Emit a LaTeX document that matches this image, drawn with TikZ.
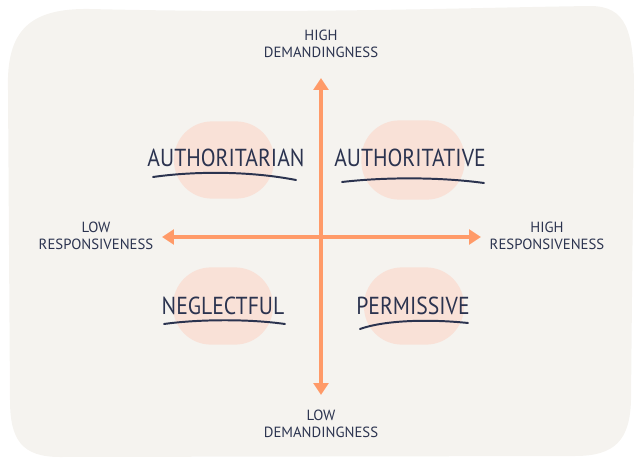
\documentclass[tikz,border=0pt]{standalone}
\usepackage{fontspec}
\setmainfont{PT Sans}
\newfontfamily\handfont[FakeStretch=0.88]{PT Sans}
\usepackage{tikz}
\usetikzlibrary{arrows.meta,positioning,calc}
\definecolor{pnavy}{HTML}{2B334F}
\definecolor{porange}{HTML}{FF9A68}
\definecolor{ppeach}{HTML}{F9E1D7}
\definecolor{pbg}{HTML}{F5F3EF}

\begin{document}
\begin{tikzpicture}[x=0.025cm, y=-0.025cm,
        axis/.style={{Triangle[length=8.5pt, width=10.5pt]}-{Triangle[length=8.5pt, width=10.5pt]}, line width=2.2pt, porange},
        blob/.style={fill=ppeach, rounded corners=0.95cm, minimum width=2.5cm, minimum height=1.93cm, inner sep=0pt},
        style/.style={text=pnavy, font=\handfont\fontsize{17.5}{20}\selectfont, inner sep=0pt},
        lbl/.style={text=pnavy, align=center, font=\fontsize{10.5}{12.1}\selectfont, inner sep=0pt},
        uline/.style={pnavy, line width=1.4pt, line cap=round}]
        \useasboundingbox (0,0) rectangle (640,468);
        % backdrop
        \fill[pbg] (8,90) .. controls (6,30) and (30,8) .. (90,9) .. controls (300,14) and (450,8) .. (590,6)
              .. controls (626,6) and (634,30) .. (634,90) -- (631,400) .. controls (630,440) and (615,456) .. (575,456)
              -- (60,457) .. controls (22,457) and (10,440) .. (10,400) -- cycle;
        % blobs
        \node[blob] (b1) at (224,160) {};
        \node[blob, minimum width=2.58cm, minimum height=1.98cm] (b2) at (413,160) {};
        \node[blob] (b3) at (223,306) {};
        \node[blob] (b4) at (414,306) {};
        % axes
        \coordinate (top) at (321,78);
        \coordinate (bot) at (321,395);
        \coordinate (lft) at (162,237);
        \coordinate (rgt) at (481,237);
        \draw[axis] (bot) -- (top);
        \draw[axis] (lft) -- (rgt);
        \node[lbl] (hd) at (321,44) {HIGH\\DEMANDINGNESS};
        \node[lbl] (ld) at (321,424) {LOW\\DEMANDINGNESS};
        \node[lbl] (lr) at (96,236) {LOW\\RESPONSIVENESS};
        \node[lbl] (hr) at (547,236) {HIGH\\RESPONSIVENESS};
        % styles
        \node[style] (s1) at (226,158) {AUTHORITARIAN};
        \node[style] (s2) at (410,158) {AUTHORITATIVE};
        \node[style] (s3) at (223,306) {NEGLECTFUL};
        \node[style] (s4) at (413,306) {PERMISSIVE};
        \draw[uline] (153,177) .. controls (195,171) and (250,171) .. (296,180);
        \draw[uline] (342,182) .. controls (385,177) and (440,177) .. (484,183);
        \draw[uline] (164,324) .. controls (200,319) and (250,319) .. (285,324);
        \draw[uline] (360,329) .. controls (385,320) and (430,319) .. (468,323);
      \end{tikzpicture}
\end{document}
